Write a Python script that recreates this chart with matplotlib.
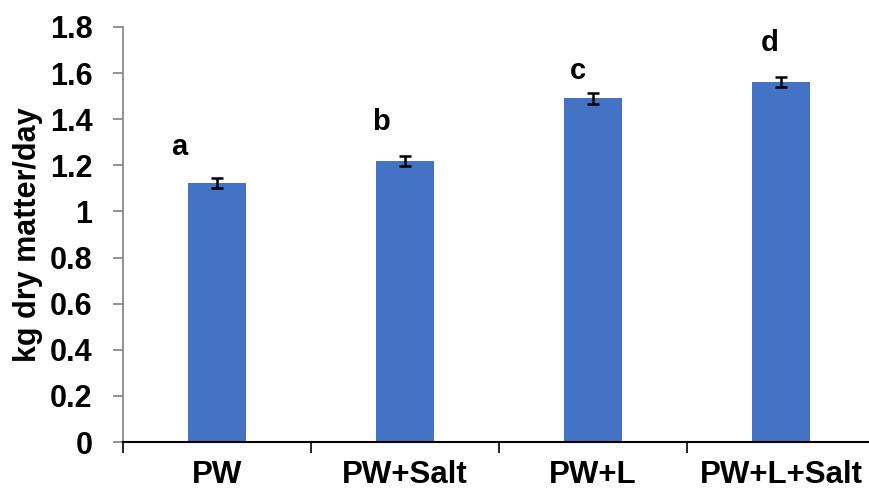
import numpy as np
import matplotlib
matplotlib.use("Agg")
import matplotlib.pyplot as plt

plt.rcParams['font.family'] = ['Liberation Sans', 'DejaVu Sans']

treatments = ["PW", "PW+Salt", "PW+L", "PW+L+Salt"]
intake = [1.123, 1.218, 1.490, 1.563]
intake_se = [0.022, 0.022, 0.022, 0.022]
letters = ["a", "b", "c", "d"]

# where the significance letters sit
letter_x = [-0.20, -0.13, -0.08, -0.06]
letter_y = [1.28, 1.39, 1.61, 1.73]

fig = plt.figure(figsize=(8.69, 4.93), dpi=100)
ax = fig.add_axes([123 / 869, 51 / 493, 752 / 869, 415 / 493])

x = np.arange(len(treatments))
ax.bar(x, intake, width=0.31, color="#4472C4", zorder=2)
ax.errorbar(x, intake, yerr=intake_se, fmt="none", ecolor="black",
            elinewidth=1.8, capsize=4, capthick=1.8, zorder=3)

for i, lab in enumerate(letters):
    ax.text(x[i] + letter_x[i], letter_y[i], lab, ha="center", va="center",
            fontsize=21, fontweight="bold")

ax.set_xlim(-0.5, 3.5)
ax.set_ylim(0, 1.8)
ax.set_yticks(np.arange(0, 1.81, 0.2))
ax.set_yticklabels(["0", "0.2", "0.4", "0.6", "0.8", "1", "1.2", "1.4", "1.6", "1.8"])
ax.set_xticks(x)
ax.set_xticklabels(treatments)
ax.set_xticks(np.arange(-0.5, 3.6, 1), minor=True)
ax.tick_params(axis="x", which="major", length=0, pad=13, labelsize=22.5)
ax.tick_params(axis="x", which="minor", length=8, width=1.2, color="black")
ax.tick_params(axis="y", length=7, width=1.2, color="#808080", labelsize=22, pad=15)
for t in ax.get_xticklabels() + ax.get_yticklabels():
    t.set_fontweight("bold")

ax.set_ylabel("kg dry matter/day", fontsize=22, fontweight="bold", labelpad=5)

ax.spines["top"].set_visible(False)
ax.spines["right"].set_visible(False)
ax.spines["left"].set_color("#808080")
ax.spines["left"].set_linewidth(1.2)
ax.spines["bottom"].set_color("black")
ax.spines["bottom"].set_linewidth(1.5)

fig.savefig("out.png", dpi=100)
